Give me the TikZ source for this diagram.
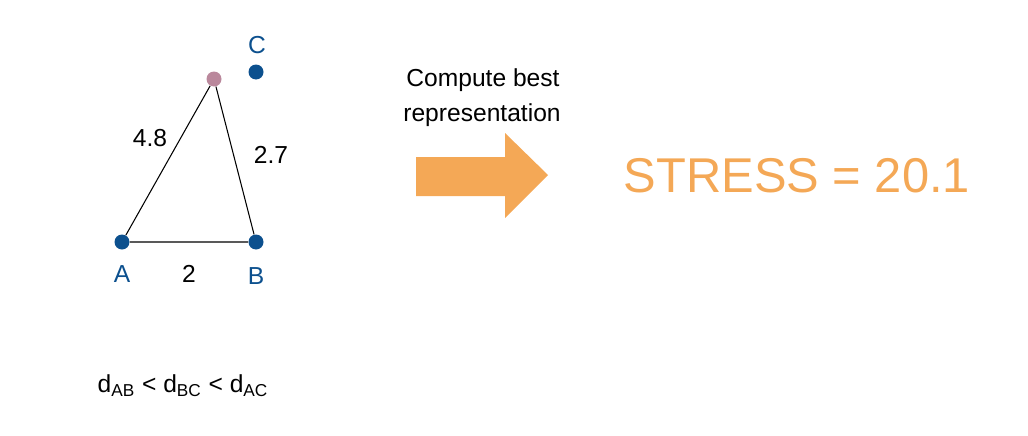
\documentclass[tikz,border=0pt]{standalone}
\usepackage{fontspec}
\setmainfont{Liberation Sans}
\definecolor{ptblue}{RGB}{12,80,142}
\definecolor{ptpink}{RGB}{186,136,156}
\definecolor{stressorange}{RGB}{244,168,86}
\tikzset{
  dot/.style={circle, inner sep=0pt, minimum size=15*0.02cm},
  lbl/.style={font=\fontsize{14}{17}\selectfont},
}
\begin{document}
\begin{tikzpicture}[x=0.02cm,y=-0.02cm]
        \useasboundingbox (0,0) rectangle (1028,436);

        % Points
        \node[dot, fill=ptblue] (A) at (122,242) {};
        \node[dot, fill=ptblue] (B) at (256,242) {};
        \node[dot, fill=ptblue] (C) at (256,72) {};
        \node[dot, fill=ptpink] (P) at (214,79) {};

        % Triangle
        \draw[line width=0.6pt] (A) -- (B) -- (P) -- (A);

        % Point labels
        \node[lbl, text=ptblue] (la) at (122,274) {A};
        \node[lbl, text=ptblue] (lb) at (256,276) {B};
        \node[lbl, text=ptblue] (lc) at (257,45) {C};

        % Distances
        \node[lbl] (dac) at (150,138) {4.8};
        \node[lbl] (dbc) at (271,155) {2.7};
        \node[lbl] (dab) at (189,274) {2};
        \node[lbl] (order) at (183,386) {d\textsubscript{AB} < d\textsubscript{BC} < d\textsubscript{AC}};

        % Arrow
        \node[lbl] (compute) at (483,80) {Compute best};
        \node[lbl] (repr) at (482,115) {representation};
        \fill[stressorange] (416,157) -- (505,157) -- (505,133) -- (548,175)
          -- (505,218) -- (505,196) -- (416,196) -- cycle;

        % Result
        \node[font=\fontsize{27.8}{33}\selectfont, text=stressorange] (stress) at (797,176) {STRESS = 20.1};

    \end{tikzpicture}
\end{document}
